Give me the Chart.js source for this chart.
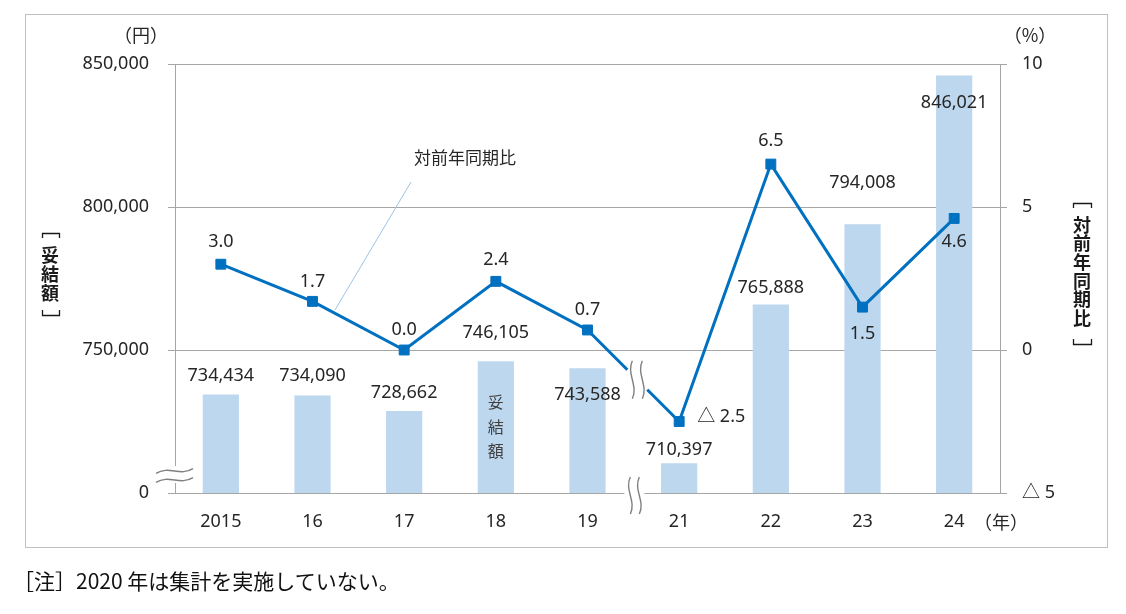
<!DOCTYPE html>
<html><head><meta charset="utf-8">
<script src="https://cdn.jsdelivr.net/npm/chart.js@4"></script>
<style>
html,body{margin:0;padding:0;background:#fff;}
#wrap{position:relative;width:1126px;height:614px;overflow:hidden;}
#note{position:absolute;left:13px;top:565px;font:21px 'Noto Sans CJK JP';color:#111;white-space:nowrap;line-height:30px;}
</style></head><body>
<div id="wrap"><canvas id="c" width="1126" height="614"></canvas>
<div id="note">［注］2020 年は集計を実施していない。</div></div>
<script>
// ---- data ----
const categories = ['2015','16','17','18','19','21','22','23','24'];
const settlementAmounts = [734434,734090,728662,746105,743588,710397,765888,794008,846021];
const yoyChange = [3.0,1.7,0.0,2.4,0.7,-2.5,6.5,1.5,4.6];
const leftTicks = [700000,750000,800000,850000];   // 700,000 is shown as "0" (broken axis)
const rightTicks = [-5,0,5,10];

// ---- label placement (style, not data) ----
const barLabelDy = [-18.5,-19.5,-18.5,-28,27,-13,-16.5,-41.5,27.5];
const lineLabelOff = [[0,-22],[0,-20],[0,-20],[0,-21],[0,-20],[18,-5],[0,-23],[0,27],[0,23]];

const NUMFONT = "'Noto Sans','Noto Sans CJK JP',sans-serif";
const JPFONT = "'Noto Sans CJK JP','Noto Sans',sans-serif";
const TXT = '#262626';
const GRID = '#A6A6A6';
const BLUE = '#0070C0';

function fmtNum(v){ return v.toLocaleString('en-US'); }
function fmtPct(v){ return v < 0 ? '△ ' + Math.abs(v).toFixed(1) : v.toFixed(1); }

function vWave(ctx, x, y0, y1, amp){
  const h = y1 - y0;
  ctx.beginPath();
  ctx.moveTo(x, y0);
  ctx.bezierCurveTo(x - amp*2.4, y0 + h*0.35, x + amp*2.4, y0 + h*0.65, x, y1);
  ctx.stroke();
}
function hWave(ctx, x0, x1, y, amp){
  const w = x1 - x0;
  ctx.beginPath();
  ctx.moveTo(x0, y + amp);
  ctx.bezierCurveTo(x0 + w*0.35, y - amp*2.4, x0 + w*0.65, y + amp*2.4, x1, y - amp);
  ctx.stroke();
}
function bracketV(ctx, x0, x1, y, dir){
  ctx.beginPath();
  ctx.moveTo(x0 + 0.5, y + dir*5);
  ctx.lineTo(x0 + 0.5, y + 0.5);
  ctx.lineTo(x1 + 0.5, y + 0.5);
  ctx.lineTo(x1 + 0.5, y + dir*5);
  ctx.stroke();
}

const decor = {
  id:'decor',
  beforeDraw(chart){
    const ctx = chart.ctx;
    ctx.save();
    ctx.strokeStyle = '#BFBFBF';
    ctx.lineWidth = 1;
    ctx.strokeRect(25.5, 14.5, 1082, 533);
    ctx.restore();
  },
  afterDatasetsDraw(chart){
    const ctx = chart.ctx;
    const xs = chart.scales.x;
    const ca = chart.chartArea;
    ctx.save();
    // --- left axis break ---
    const lx = ca.left;
    ctx.fillStyle = '#fff';
    ctx.fillRect(lx - 3, 466, 6, 17);
    ctx.strokeStyle = '#808080';
    ctx.lineWidth = 1.4;
    hWave(ctx, lx - 19, lx + 18, 471, 2.4);
    hWave(ctx, lx - 19, lx + 18, 480, 2.4);
    // --- x axis break between "19" and "21" ---
    const bx = (xs.getPixelForValue(4) + xs.getPixelForValue(5)) / 2;
    ctx.fillStyle = '#fff';
    ctx.fillRect(bx - 9, ca.bottom - 3, 20, 6);
    vWave(ctx, bx - 3, 477, 514, 2.6);
    vWave(ctx, bx + 6, 477, 514, 2.6);
    // --- line break ---
    const p4 = chart.getDatasetMeta(0).data[4], p5 = chart.getDatasetMeta(0).data[5];
    const g0 = bx - 6, g1 = bx + 14;
    const t0 = (g0 - p4.x) / (p5.x - p4.x), t1 = (g1 - p4.x) / (p5.x - p4.x);
    ctx.strokeStyle = '#fff';
    ctx.lineWidth = 6;
    ctx.beginPath();
    ctx.moveTo(p4.x + (p5.x - p4.x) * t0, p4.y + (p5.y - p4.y) * t0);
    ctx.lineTo(p4.x + (p5.x - p4.x) * t1, p4.y + (p5.y - p4.y) * t1);
    ctx.stroke();
    const my = p4.y + (p5.y - p4.y) * ((bx + 4 - p4.x) / (p5.x - p4.x));
    ctx.strokeStyle = '#808080';
    ctx.lineWidth = 1.4;
    vWave(ctx, bx - 1, my - 19, my + 19, 2.6);
    vWave(ctx, bx + 9, my - 19, my + 19, 2.6);
    ctx.restore();
  },
  afterDraw(chart){
    const ctx = chart.ctx;
    ctx.save();
    ctx.textBaseline = 'middle';
    // bar labels
    ctx.font = '18px ' + NUMFONT;
    ctx.fillStyle = TXT;
    ctx.textAlign = 'center';
    chart.getDatasetMeta(1).data.forEach((b, i) => {
      ctx.fillText(fmtNum(settlementAmounts[i]), b.x, b.y + barLabelDy[i]);
    });
    // line labels
    chart.getDatasetMeta(0).data.forEach((p, i) => {
      const [dx, dy] = lineLabelOff[i];
      ctx.textAlign = dx > 0 ? 'left' : 'center';
      ctx.fillText(fmtPct(yoyChange[i]), p.x + dx, p.y + dy);
    });
    // units
    ctx.textAlign = 'center';
    ctx.font = '18px ' + JPFONT;
    ctx.fillText('（円）', 141, 35);
    ctx.fillText('（%）', 1030, 35);
    ctx.fillText('（年）', 1001, 522);
    // annotation
    ctx.font = '17px ' + JPFONT;
    ctx.fillText('対前年同期比', 465, 158);
    ctx.strokeStyle = '#9DC3E6';
    ctx.lineWidth = 1;
    ctx.beginPath();
    ctx.moveTo(411, 182); ctx.lineTo(335, 310);
    ctx.stroke();
    // vertical text inside bar 18
    ctx.font = '16px ' + JPFONT;
    ctx.fillStyle = '#404040';
    const b18 = chart.getDatasetMeta(1).data[3];
    ['妥','結','額'].forEach((c, k) => ctx.fillText(c, b18.x, 402 + k * 24.5));
    // left axis title (vertical)
    ctx.fillStyle = '#1a1a1a';
    ctx.font = 'bold 18px ' + JPFONT;
    ['妥','結','額'].forEach((c, k) => ctx.fillText(c, 50, 255 + k * 19));
    ctx.strokeStyle = '#1a1a1a';
    ctx.lineWidth = 1.3;
    bracketV(ctx, 42, 59, 233, 1);
    bracketV(ctx, 42, 59, 315, -1);
    // right axis title (vertical)
    ['対','前','年','同','期','比'].forEach((c, k) => ctx.fillText(c, 1082, 225 + k * 18.6));
    bracketV(ctx, 1073, 1091, 203, 1);
    bracketV(ctx, 1073, 1091, 344, -1);
    ctx.restore();
  }
};

const tickFont = {family: NUMFONT, size: 18};

new Chart(document.getElementById('c'), {
  data: {
    labels: categories,
    datasets: [
      {type:'line', data: yoyChange, yAxisID:'y1', order:0,
       borderColor: BLUE, borderWidth: 3, tension: 0,
       pointStyle:'rect', pointRadius: 7, pointBorderWidth: 1,
       pointBackgroundColor: BLUE, pointBorderColor: BLUE},
      {type:'bar', data: settlementAmounts, yAxisID:'y', order:1,
       backgroundColor:'#BDD7EE', barPercentage: 0.395, categoryPercentage: 1}
    ]
  },
  options: {
    responsive: false, animation: false,
    layout: {padding: {top: 64, left: 0, right: 0, bottom: 0}},
    plugins: {legend: {display: false}, tooltip: {enabled: false}},
    scales: {
      x: {
        grid: {display: false, drawTicks: false},
        border: {display: true, color: GRID, width: 1},
        ticks: {padding: 18, font: tickFont, color: TXT, maxRotation: 0},
        afterFit: s => { s.height = 121; }
      },
      y: {
        position: 'left', min: 700000, max: 850000,
        afterBuildTicks: s => { s.ticks = leftTicks.map(v => ({value: v})); },
        ticks: {padding: 19, font: tickFont, color: TXT,
                callback: v => v === leftTicks[0] ? '0' : fmtNum(v)},
        grid: {color: GRID, tickLength: 7, lineWidth: 1},
        border: {display: true, color: GRID, width: 1},
        afterFit: s => { s.width = 175; }
      },
      y1: {
        position: 'right', min: -5, max: 10,
        afterBuildTicks: s => { s.ticks = rightTicks.map(v => ({value: v})); },
        ticks: {padding: 15, font: tickFont, color: TXT,
                callback: v => v < 0 ? '△ ' + Math.abs(v) : String(v)},
        grid: {drawOnChartArea: false, color: GRID, tickLength: 7, lineWidth: 1},
        border: {display: true, color: GRID, width: 1},
        afterFit: s => { s.width = 126; }
      }
    }
  },
  plugins: [decor]
});
</script>
</body></html>
